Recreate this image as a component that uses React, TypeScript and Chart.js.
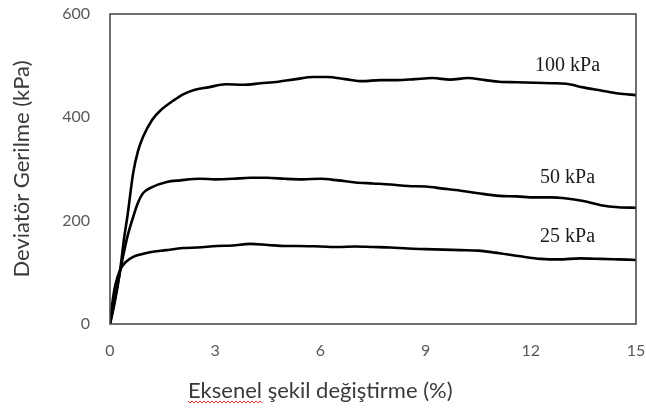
import React, { useEffect, useRef } from "react";
import { Chart, registerables } from "chart.js";

Chart.register(...registerables);

// Axial strain (%) and deviator stress (kPa)
const strain100 = [0, 0.1, 0.2, 0.3, 0.4, 0.5, 0.66, 0.8, 0.94, 1.2, 1.45, 1.8, 2.1, 2.4, 2.8, 3.3, 3.8, 4.3, 4.8, 5.3, 5.8, 6.2, 6.7, 7.2, 7.7, 8.2, 8.7, 9.2, 9.7, 10.2, 10.7, 11.1, 11.6, 12.1, 12.6, 13.0, 13.5, 14.0, 14.5, 15];
const stress100 = [0, 30, 66, 110, 165, 210, 292, 335, 362, 395, 414, 432, 445, 453, 458, 464, 463, 466, 469, 474, 478, 478, 474, 470, 472, 472, 474, 476, 473, 476, 472, 469, 468, 467, 466, 465, 458, 452, 446, 443];

const strain50 = [0, 0.1, 0.2, 0.37, 0.5, 0.66, 0.8, 0.94, 1.2, 1.62, 2.0, 2.57, 3.0, 3.5, 4.0, 4.47, 5.0, 5.5, 6.0, 6.5, 7.0, 7.5, 8.0, 8.5, 9.0, 9.5, 10.0, 10.5, 11.1, 11.6, 12.1, 12.6, 12.9, 13.5, 14.0, 14.5, 15];
const stress50 = [0, 35, 70, 130, 170, 207, 235, 253, 265, 275, 278, 281, 280, 281, 283, 283, 281, 280, 281, 278, 274, 272, 270, 267, 266, 262, 258, 253, 248, 247, 245, 245, 244, 238, 230, 226, 225];

const strain25 = [0, 0.05, 0.09, 0.15, 0.29, 0.45, 0.66, 0.9, 1.14, 1.6, 2.08, 2.5, 3.05, 3.5, 4.0, 4.5, 5.0, 5.33, 6.0, 6.5, 7.0, 7.5, 8.0, 8.5, 9.0, 9.5, 10.0, 10.5, 11.1, 11.7, 12.3, 12.8, 13.4, 14.0, 14.5, 15];
const stress25 = [0, 30, 52, 75, 105, 120, 130, 135, 139, 143, 147, 148, 151, 152, 155, 153, 151, 151, 150, 149, 150, 149, 148, 146, 145, 144, 143, 142, 137, 131, 126, 125, 127, 126, 125, 124];

const seriesLabels = ["100 kPa", "50 kPa", "25 kPa"];
const labelStrain = [13.05, 13.05, 13.05];
const labelStress = [499, 283, 168];

const xTicks = [0, 3, 6, 9, 12, 15];
const yTicks = [0, 200, 400, 600];
const xTitle = "Eksenel şekil değiştirme (%)";
const yTitle = "Deviatör Gerilme (kPa)";

const toPoints = (xs: number[], ys: number[]) => xs.map((x, i) => ({ x, y: ys[i] }));

const framePlugin = {
  id: "frameAndText",
  afterDraw(chart: any) {
    const { ctx, chartArea, scales } = chart;
    ctx.save();
    ctx.strokeStyle = "#404040";
    ctx.lineWidth = 1.5;
    ctx.strokeRect(chartArea.left, chartArea.top, chartArea.right - chartArea.left, chartArea.bottom - chartArea.top);
    // series labels
    ctx.fillStyle = "#1a1a1a";
    ctx.font = "20px 'Liberation Serif'";
    ctx.textAlign = "center";
    ctx.textBaseline = "middle";
    seriesLabels.forEach((t, i) => {
      ctx.fillText(t, scales.x.getPixelForValue(labelStrain[i]), scales.y.getPixelForValue(labelStress[i]));
    });
    // x title
    ctx.font = "22px Lato";
    ctx.fillStyle = "#3a3a3a";
    ctx.textAlign = "left";
    ctx.textBaseline = "alphabetic";
    const tx = 188;
    const ty = 398;
    ctx.fillText(xTitle, tx, ty);
    const w = ctx.measureText("Eksenel").width;
    ctx.strokeStyle = "#e03030";
    ctx.lineWidth = 1;
    ctx.beginPath();
    for (let x = 0; x <= w; x += 2) {
      const y = ty + 3 + ((x / 2) % 2 === 0 ? 0 : 2);
      if (x === 0) ctx.moveTo(tx + x, y);
      else ctx.lineTo(tx + x, y);
    }
    ctx.stroke();
    ctx.restore();
  },
};

const zeroPad = (s: any) => {
  s.paddingTop = 0;
  s.paddingBottom = 0;
  s.paddingLeft = 0;
  s.paddingRight = 0;
};

export default function App() {
  const ref = useRef<HTMLCanvasElement>(null);
  useEffect(() => {
    const line = (xs: number[], ys: number[]) => ({
      data: toPoints(xs, ys),
      borderColor: "#000",
      borderWidth: 2.6,
      pointRadius: 0,
      cubicInterpolationMode: "monotone" as const,
      fill: false,
    });
    const chart = new Chart(ref.current!, {
      type: "line",
      data: {
        datasets: [line(strain100, stress100), line(strain50, stress50), line(strain25, stress25)],
      },
      options: {
        animation: false,
        responsive: false,
        maintainAspectRatio: false,
        layout: { padding: { top: 14, right: 10, left: 0, bottom: 0 } },
        plugins: { legend: { display: false }, tooltip: { enabled: false } },
        scales: {
          x: {
            type: "linear",
            min: 0,
            max: 15,
            afterBuildTicks: (s: any) => {
              s.ticks = xTicks.map((v) => ({ value: v }));
            },
            afterFit: (s: any) => {
              s.height = 88;
              zeroPad(s);
            },
            grid: { display: false, drawTicks: false },
            border: { display: false },
            ticks: { padding: 17, color: "#595959", font: { family: "Lato", size: 16 } },
          },
          y: {
            type: "linear",
            min: 0,
            max: 600,
            afterBuildTicks: (s: any) => {
              s.ticks = yTicks.map((v) => ({ value: v }));
            },
            afterFit: (s: any) => {
              s.width = 110;
              zeroPad(s);
            },
            grid: { display: false, drawTicks: false },
            border: { display: false },
            ticks: { padding: 20, color: "#595959", font: { family: "Lato", size: 16 } },
            title: {
              display: true,
              text: yTitle,
              color: "#3a3a3a",
              font: { family: "Lato", size: 22 },
              padding: { top: 9, bottom: 0 },
            },
          },
        },
      },
      plugins: [framePlugin],
    });
    return () => chart.destroy();
  }, []);
  return (
    <div style={{ position: "absolute", left: 0, top: 0, width: 646, height: 412, background: "#fff" }}>
      <canvas ref={ref} width={646} height={412} style={{ width: 646, height: 412 }} />
    </div>
  );
}
